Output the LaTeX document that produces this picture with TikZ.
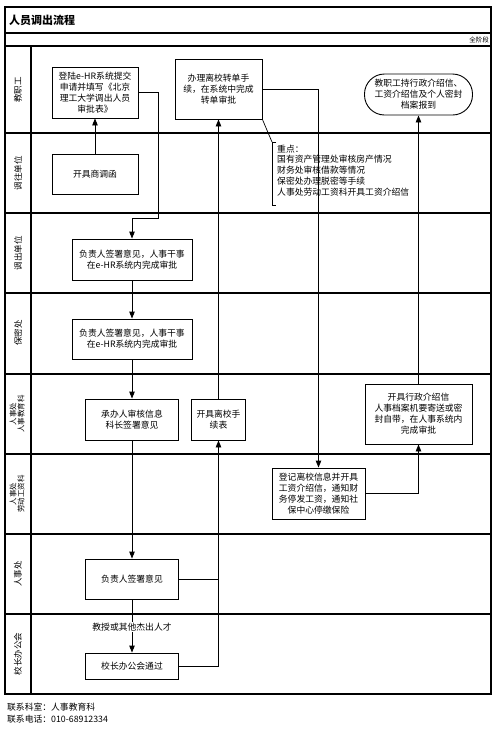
\documentclass[tikz,border=0pt]{standalone}
\usepackage{fontspec}
\setmainfont{Noto Sans CJK SC}
\usetikzlibrary{arrows.meta}
\begin{document}
\begin{tikzpicture}[x=1pt,y=-1pt,
  box/.style={draw,line width=0.9pt,align=center,font=\fontsize{8.8}{11}\selectfont,inner sep=0pt},
  conn/.style={line width=0.9pt},
  arr/.style={conn,-{Triangle[length=7pt,width=5.5pt]}},
  lane/.style={rotate=90,align=center,font=\fontsize{8.5}{9}\selectfont,inner sep=0pt},
  lane2/.style={rotate=90,align=center,font=\fontsize{7.5}{8}\selectfont,inner sep=0pt},
  frame/.style={line width=1.2pt},
  note/.style={align=left,anchor=north west,font=\fontsize{8.8}{10.8}\selectfont,inner sep=0pt}]
\useasboundingbox (0,0) rectangle (500,729);
% frame and lanes
\draw[frame] (5,7) rectangle (491,694);
\draw[frame] (5,33) -- (491,33);
\draw[frame] (5,46) -- (491,46);
\draw[frame] (31,46) -- (31,694);
\foreach \yy in {133,213,293,374,454,534,614}
  \draw[frame] (5,\yy) -- (491,\yy);
\node[anchor=west,font=\bfseries\fontsize{11}{13}\selectfont,inner sep=0pt] (title) at (9,20) {人员调出流程};
\node[anchor=east,font=\fontsize{6.5}{7}\selectfont,inner sep=0pt] (stage) at (489,40) {全阶段};
% lane labels
\node[lane] (l1) at (18,90) {教职工};
\node[lane] (l2) at (18,173) {调往单位};
\node[lane] (l3) at (18,253) {调出单位};
\node[lane] (l4) at (18,333) {保密处};
\node[lane2] (l5) at (17,414) {人事处\\人事教育科};
\node[lane2] (l6) at (17,494) {人事处\\劳动工资科};
\node[lane] (l7) at (18,574) {人事处};
\node[lane] (l8) at (18,654) {校长办公会};
% boxes
\node[box,minimum width=86pt,minimum height=51pt] (b1) at (95,92.5) {登陆e-HR系统提交\\申请并填写《北京\\理工大学调出人员\\审批表》};
\node[box,minimum width=87pt,minimum height=60pt] (b2) at (218.5,89) {办理离校转单手\\续，在系统中完成\\转单审批};
\node[box,rounded corners=20pt,minimum width=108pt,minimum height=41pt] (b3) at (418.5,94.5) {教职工持行政介绍信、\\工资介绍信及个人密封\\档案报到};
\node[box,minimum width=86pt,minimum height=40pt] (b4) at (95,174) {开具商调函};
\node[box,minimum width=120pt,minimum height=41pt] (b5) at (132,259.5) {负责人签署意见，人事干事\\在e-HR系统内完成审批};
\node[box,minimum width=120pt,minimum height=40pt] (b6) at (132,339) {负责人签署意见，人事干事\\在e-HR系统内完成审批};
\node[box,minimum width=93pt,minimum height=41pt] (b7) at (132,419.5) {承办人审核信息\\科长签署意见};
\node[box,minimum width=54pt,minimum height=41pt] (b8) at (218.5,419.5) {开具离校手\\续表};
\node[box,minimum width=107pt,minimum height=60pt] (b9) at (418.5,414) {开具行政介绍信\\人事档案机要寄送或密\\封自带，在人事系统内\\完成审批};
\node[box,minimum width=93pt,minimum height=51pt] (b10) at (318.5,493.5) {登记离校信息并开具\\工资介绍信，通知财\\务停发工资，通知社\\保中心停缴保险};
\node[box,minimum width=93pt,minimum height=40pt] (b11) at (132,579) {负责人签署意见};
\node[box,minimum width=93pt,minimum height=26pt] (b12) at (132,666) {校长办公会通过};
% connectors
\coordinate (c1) at (158,92.5);
\coordinate (c2) at (158,218);
\draw[arr] (b4.north) -- (b4.north |- b1.south);
\draw[arr] (b1.east) -- (c1) -- (c2) -| (b5.north);
\draw[arr] (b5.south) -- (b6.north);
\draw[arr] (b6.south) -- (b7.north);
\draw[arr] (b7.south) -- (b11.north);
\draw[arr] (b11.south) -- node[fill=white,font=\fontsize{8.8}{10}\selectfont,inner sep=1pt,pos=0.52] (lbl) {教授或其他杰出人才} (b12.north);
\draw[conn] (b11.east) -- (b11.east -| b8.south);
\draw[arr] (b12.east) -| (b8.south);
\draw[arr] (b8.north) -- (b8.north |- b2.south);
\draw[arr] (b2.east) -| (b10.north);
\draw[arr] (b10.east) -| (b9.south);
\draw[arr] (b9.north) -- (b9.north |- b3.south);
% annotation
\coordinate (n1) at (272,142);
\draw[conn,line width=0.7pt] (b2.south east) -- (n1);
\draw[conn,line width=0.8pt] (276,142) -- (272,142) -- (272,205) -- (276,205);
\node[note] (note) at (277,144.5) {重点：\\国有资产管理处审核房产情况\\财务处审核借款等情况\\保密处办理脱密等手续\\人事处劳动工资科开具工资介绍信};
% footer
\node[anchor=west,font=\fontsize{8.8}{10}\selectfont,inner sep=0pt] (f1) at (7,707) {联系科室：人事教育科};
\node[anchor=west,font=\fontsize{8.8}{10}\selectfont,inner sep=0pt] (f2) at (7,719) {联系电话：010-68912334};
\end{tikzpicture}
\end{document}
